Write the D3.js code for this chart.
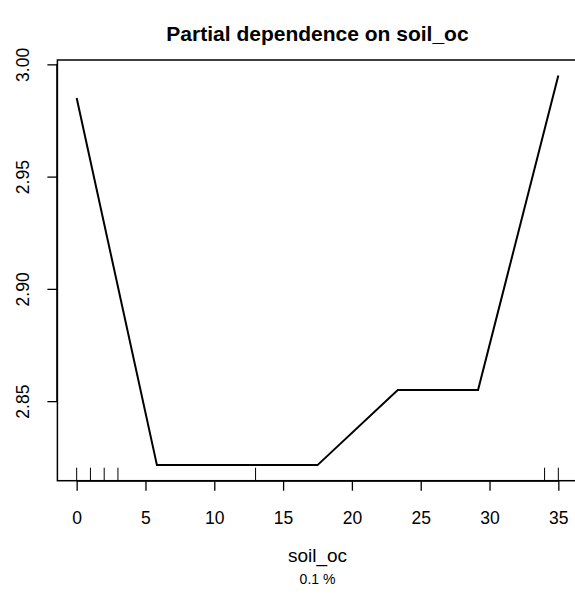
<!DOCTYPE html>
<html>
<head>
<meta charset="utf-8">
<script src="https://cdn.jsdelivr.net/npm/d3@7"></script>
<style>
  html, body { margin: 0; padding: 0; background: #fff; }
  svg { display: block; font-family: "Liberation Sans", Arial, Helvetica, sans-serif; }
</style>
</head>
<body>
<svg id="chart" width="575" height="595"></svg>
<script>
// ---- data ----
const xValues = [0, 5.833, 11.667, 17.5, 23.333, 29.167, 35];
const yValues = [2.985, 2.8215, 2.8215, 2.8215, 2.855, 2.855, 2.995];
const rugValues = [0, 1, 2, 3, 13, 34, 35];
const xTickValues = [0, 5, 10, 15, 20, 25, 30, 35];
const yTickValues = [2.85, 2.90, 2.95, 3.00];
const titleText = "Partial dependence on soil_oc";
const xLabelText = "soil_oc";
const subText = "0.1 %";

// ---- layout ----
const W = 575, H = 595;
const plotLeft = 57.4, plotRight = 577.6, plotTop = 60, plotBottom = 480.7;

const svg = d3.select("#chart");

function padded(ext) {
  const r = ext[1] - ext[0];
  return [ext[0] - 0.04 * r, ext[1] + 0.04 * r];
}
const x = d3.scaleLinear().domain(padded([0, 35])).range([plotLeft, plotRight]);
const y = d3.scaleLinear().domain(padded(d3.extent(yValues))).range([plotBottom, plotTop]);

// box
svg.append("rect")
  .attr("x", plotLeft).attr("y", plotTop)
  .attr("width", plotRight - plotLeft).attr("height", plotBottom - plotTop)
  .attr("fill", "none").attr("stroke", "#000").attr("stroke-width", 1.5);

// x axis
const xAxis = d3.axisBottom(x).tickValues(xTickValues).tickSize(10).tickPadding(21)
  .tickFormat(d3.format("d"));
const gx = svg.append("g").attr("transform", `translate(0,${plotBottom})`).call(xAxis);
gx.select(".domain").attr("d", `M${x(0)},0.5H${x(35)}`).attr("stroke-width", 1.3);
gx.selectAll(".tick line").attr("stroke-width", 1.3);
gx.selectAll(".tick text").attr("font-size", 17.5).attr("fill", "#000")
  .attr("font-family", "Liberation Sans, Arial, sans-serif");

// y axis
const yAxis = d3.axisLeft(y).tickValues(yTickValues).tickSize(10)
  .tickFormat(d3.format(".2f"));
const gy = svg.append("g").attr("transform", `translate(${plotLeft},0)`).call(yAxis);
gy.select(".domain").attr("d", `M-0.5,${y(2.85)}V${y(3.0)}`).attr("stroke-width", 1.3);
gy.selectAll(".tick line").attr("stroke-width", 1.3);
gy.selectAll(".tick text")
  .attr("font-size", 17.5).attr("fill", "#000")
  .attr("font-family", "Liberation Sans, Arial, sans-serif")
  .attr("x", null).attr("dy", null)
  .attr("text-anchor", "middle")
  .attr("transform", "translate(-28,0) rotate(-90)");

// rug
svg.append("g").selectAll("line").data(rugValues).join("line")
  .attr("x1", d => x(d)).attr("x2", d => x(d))
  .attr("y1", plotBottom).attr("y2", plotBottom - 13)
  .attr("stroke", "#000").attr("stroke-width", 1);

// line
const line = d3.line().x((d, i) => x(xValues[i])).y(d => y(d));
svg.append("path").datum(yValues)
  .attr("d", line)
  .attr("fill", "none").attr("stroke", "#000").attr("stroke-width", 2)
  .attr("stroke-linejoin", "miter");

// title
svg.append("text")
  .attr("x", (plotLeft + plotRight) / 2).attr("y", 41)
  .attr("text-anchor", "middle")
  .attr("font-size", 21).attr("font-weight", "bold")
  .text(titleText);

// x label
svg.append("text")
  .attr("x", (plotLeft + plotRight) / 2).attr("y", 562)
  .attr("text-anchor", "middle")
  .attr("font-size", 19)
  .text(xLabelText);

// sub text
svg.append("text")
  .attr("x", (plotLeft + plotRight) / 2).attr("y", 584)
  .attr("text-anchor", "middle")
  .attr("font-size", 14)
  .text(subText);
</script>
</body>
</html>
